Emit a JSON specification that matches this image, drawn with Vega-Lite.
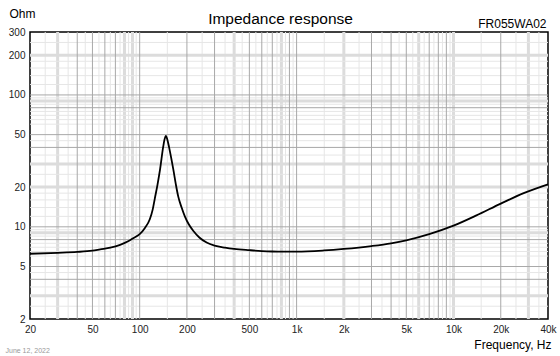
{
  "$schema": "https://vega.github.io/schema/vega-lite/v6.json",
  "width": 518,
  "height": 287,
  "autosize": {"type": "none"},
  "padding": {"left": 30, "top": 32, "right": 12, "bottom": 37},
  "background": "white",
  "config": {"font": "Liberation Sans", "view": {"stroke": "black", "strokeWidth": 1.5}},
  "datasets": {
    "vgrid": [
      {"f": 40, "k": "d"}, {"f": 50, "k": "d"}, {"f": 60, "k": "d"}, {"f": 70, "k": "d"}, {"f": 100, "k": "d"}, {"f": 200, "k": "d"}, {"f": 300, "k": "d"}, {"f": 500, "k": "d"}, {"f": 600, "k": "d"}, {"f": 700, "k": "d"}, {"f": 900, "k": "d"}, {"f": 1000, "k": "d"}, {"f": 3000, "k": "d"}, {"f": 4000, "k": "d"}, {"f": 5000, "k": "d"}, {"f": 7000, "k": "d"}, {"f": 8000, "k": "d"}, {"f": 9000, "k": "d"}, {"f": 20000, "k": "d"},
      {"f": 30, "k": "t"}, {"f": 80, "k": "t"}, {"f": 90, "k": "t"}, {"f": 400, "k": "t"}, {"f": 800, "k": "t"}, {"f": 2000, "k": "t"}, {"f": 6000, "k": "t"}, {"f": 10000, "k": "t"}, {"f": 30000, "k": "t"},
      {"f": 25, "k": "l"}, {"f": 35, "k": "l"}, {"f": 45, "k": "l"}, {"f": 55, "k": "l"}, {"f": 65, "k": "l"}, {"f": 75, "k": "l"}, {"f": 85, "k": "l"}, {"f": 95, "k": "l"}, {"f": 150, "k": "l"}, {"f": 250, "k": "l"}, {"f": 350, "k": "l"}, {"f": 450, "k": "l"}, {"f": 550, "k": "l"}, {"f": 650, "k": "l"}, {"f": 750, "k": "l"}, {"f": 850, "k": "l"}, {"f": 950, "k": "l"}, {"f": 1500, "k": "l"}, {"f": 2500, "k": "l"}, {"f": 3500, "k": "l"}, {"f": 4500, "k": "l"}, {"f": 5500, "k": "l"}, {"f": 6500, "k": "l"}, {"f": 7500, "k": "l"}, {"f": 8500, "k": "l"}, {"f": 9500, "k": "l"}, {"f": 15000, "k": "l"}, {"f": 25000, "k": "l"}, {"f": 35000, "k": "l"}
    ],
    "hgrid": [
      {"z": 4, "k": "d"}, {"z": 5, "k": "d"}, {"z": 8, "k": "d"}, {"z": 10, "k": "d"}, {"z": 40, "k": "d"}, {"z": 50, "k": "d"}, {"z": 80, "k": "d"}, {"z": 100, "k": "d"},
      {"z": 3, "k": "t"}, {"z": 9, "k": "t"}, {"z": 20, "k": "t"}, {"z": 30, "k": "t"}, {"z": 90, "k": "t"}, {"z": 200, "k": "t"},
      {"z": 2.5, "k": "l"}, {"z": 3.5, "k": "l"}, {"z": 4.5, "k": "l"}, {"z": 6, "k": "l"}, {"z": 6.5, "k": "l"}, {"z": 7, "k": "l"}, {"z": 7.5, "k": "l"}, {"z": 8.5, "k": "l"}, {"z": 9.5, "k": "l"}, {"z": 12, "k": "l"}, {"z": 14, "k": "l"}, {"z": 16, "k": "l"}, {"z": 18, "k": "l"}, {"z": 25, "k": "l"}, {"z": 35, "k": "l"}, {"z": 45, "k": "l"}, {"z": 60, "k": "l"}, {"z": 65, "k": "l"}, {"z": 70, "k": "l"}, {"z": 75, "k": "l"}, {"z": 85, "k": "l"}, {"z": 95, "k": "l"}, {"z": 120, "k": "l"}, {"z": 140, "k": "l"}, {"z": 160, "k": "l"}, {"z": 180, "k": "l"}, {"z": 250, "k": "l"}
    ],
    "curve": [
      {"f": 20, "z": 6.25}, {"f": 30, "z": 6.35}, {"f": 40, "z": 6.45}, {"f": 50, "z": 6.6}, {"f": 56, "z": 6.75}, {"f": 65, "z": 6.95}, {"f": 75, "z": 7.3}, {"f": 85, "z": 7.8}, {"f": 91, "z": 8.2}, {"f": 100, "z": 8.8}, {"f": 108, "z": 9.8}, {"f": 116, "z": 11.4}, {"f": 121, "z": 13.5}, {"f": 125, "z": 16.5}, {"f": 130, "z": 21}, {"f": 135, "z": 27.5}, {"f": 141, "z": 40}, {"f": 144, "z": 46}, {"f": 147, "z": 49}, {"f": 150, "z": 46}, {"f": 154, "z": 40}, {"f": 159, "z": 33}, {"f": 164, "z": 27}, {"f": 170, "z": 21}, {"f": 176, "z": 17}, {"f": 185, "z": 14}, {"f": 194, "z": 12}, {"f": 205, "z": 10.5}, {"f": 220, "z": 9.3}, {"f": 240, "z": 8.3}, {"f": 267, "z": 7.6}, {"f": 300, "z": 7.2}, {"f": 350, "z": 6.95}, {"f": 400, "z": 6.8}, {"f": 500, "z": 6.65}, {"f": 600, "z": 6.55}, {"f": 700, "z": 6.5}, {"f": 800, "z": 6.48}, {"f": 1000, "z": 6.48}, {"f": 1500, "z": 6.62}, {"f": 2000, "z": 6.8}, {"f": 3000, "z": 7.15}, {"f": 4000, "z": 7.5}, {"f": 5000, "z": 7.9}, {"f": 7000, "z": 8.8}, {"f": 10000, "z": 10.2}, {"f": 14000, "z": 12.2}, {"f": 20000, "z": 15}, {"f": 28000, "z": 18}, {"f": 40000, "z": 21}
    ]
  },
  "resolve": {"axis": {"x": "independent", "y": "independent"}},
  "layer": [
    {
      "data": {"name": "vgrid"},
      "transform": [{"filter": "datum.k == 'l'"}],
      "mark": {"type": "rule", "color": "#e6e6e6", "strokeWidth": 1},
      "encoding": {
        "x": {"field": "f", "type": "quantitative", "scale": {"type": "log", "domain": [20, 40000], "nice": false},
          "axis": {"orient": "top", "labels": false, "ticks": false, "domain": false, "grid": false, "title": "FR055WA02", "titleFontSize": 12, "titleFontWeight": "normal", "titleColor": "#000", "titleAnchor": "end", "titleAlign": "right", "titleX": 516, "titleY": -5, "titleBaseline": "alphabetic"}}
      }
    },
    {
      "data": {"name": "vgrid"},
      "transform": [{"filter": "datum.k == 't'"}],
      "mark": {"type": "rule", "color": "#dcdcdc", "strokeWidth": 3},
      "encoding": {
        "x": {"field": "f", "type": "quantitative", "scale": {"type": "log", "domain": [20, 40000], "nice": false},
          "axis": {"orient": "top", "labels": false, "ticks": false, "domain": false, "grid": false, "title": "Impedance response", "titleFontSize": 15.5, "titleFontWeight": "normal", "titleColor": "#000", "titleAnchor": "middle", "titleAlign": "center", "titleX": 250, "titleY": -9, "titleBaseline": "alphabetic"}}
      }
    },
    {
      "data": {"name": "hgrid"},
      "transform": [{"filter": "datum.k == 'l'"}],
      "mark": {"type": "rule", "color": "#e6e6e6", "strokeWidth": 1},
      "encoding": {
        "y": {"field": "z", "type": "quantitative", "scale": {"type": "log", "domain": [2, 300], "nice": false, "zero": false},
          "axis": {"orient": "left", "labels": false, "ticks": false, "domain": false, "grid": false, "title": "June 12, 2022", "titleFontSize": 7, "titleFontWeight": "normal", "titleColor": "#999", "titleAngle": 0, "titleAlign": "left", "titleX": -25, "titleY": 320, "titleBaseline": "alphabetic"}}
      }
    },
    {
      "data": {"name": "hgrid"},
      "transform": [{"filter": "datum.k == 't'"}],
      "mark": {"type": "rule", "color": "#dcdcdc", "strokeWidth": 3},
      "encoding": {
        "y": {"field": "z", "type": "quantitative", "scale": {"type": "log", "domain": [2, 300], "nice": false, "zero": false}, "axis": null}
      }
    },
    {
      "data": {"name": "vgrid"},
      "transform": [{"filter": "datum.k == 'd'"}],
      "mark": {"type": "rule", "color": "#a8a8a8", "strokeWidth": 1},
      "encoding": {
        "x": {"field": "f", "type": "quantitative", "scale": {"type": "log", "domain": [20, 40000], "nice": false}, "axis": null}
      }
    },
    {
      "data": {"name": "hgrid"},
      "transform": [{"filter": "datum.k == 'd'"}],
      "mark": {"type": "rule", "color": "#a8a8a8", "strokeWidth": 1},
      "encoding": {
        "y": {"field": "z", "type": "quantitative", "scale": {"type": "log", "domain": [2, 300], "nice": false, "zero": false}, "axis": null}
      }
    },
    {
      "data": {"name": "curve"},
      "mark": {"type": "line", "color": "black", "strokeWidth": 1.8, "interpolate": "monotone"},
      "encoding": {
        "x": {"field": "f", "type": "quantitative", "scale": {"type": "log", "domain": [20, 40000], "nice": false},
          "axis": {"orient": "bottom", "values": [20, 50, 100, 200, 500, 1000, 2000, 5000, 10000, 20000, 40000], "labelExpr": "datum.value >= 1000 ? (datum.value / 1000) + 'k' : '' + datum.value", "grid": false, "ticks": false, "domain": false, "labelFontSize": 10, "labelColor": "#222", "labelPadding": 5, "labelFlush": false, "labelOverlap": false, "title": "Frequency, Hz", "titleFontSize": 12, "titleFontWeight": "normal", "titleColor": "#000", "titleAnchor": "end", "titleAlign": "right", "titleX": 521, "titleY": 29, "titleBaseline": "alphabetic"}},
        "y": {"field": "z", "type": "quantitative", "scale": {"type": "log", "domain": [2, 300], "nice": false, "zero": false},
          "axis": {"orient": "left", "values": [2, 5, 10, 20, 50, 100, 200, 300], "grid": false, "ticks": false, "domain": false, "labelFontSize": 10, "labelColor": "#222", "labelPadding": 5, "labelFlush": false, "labelOverlap": false, "title": "Ohm", "titleFontSize": 12, "titleFontWeight": "normal", "titleColor": "#000", "titleAngle": 0, "titleAlign": "left", "titleX": -21, "titleY": -15, "titleBaseline": "alphabetic"}}
      }
    }
  ]
}
